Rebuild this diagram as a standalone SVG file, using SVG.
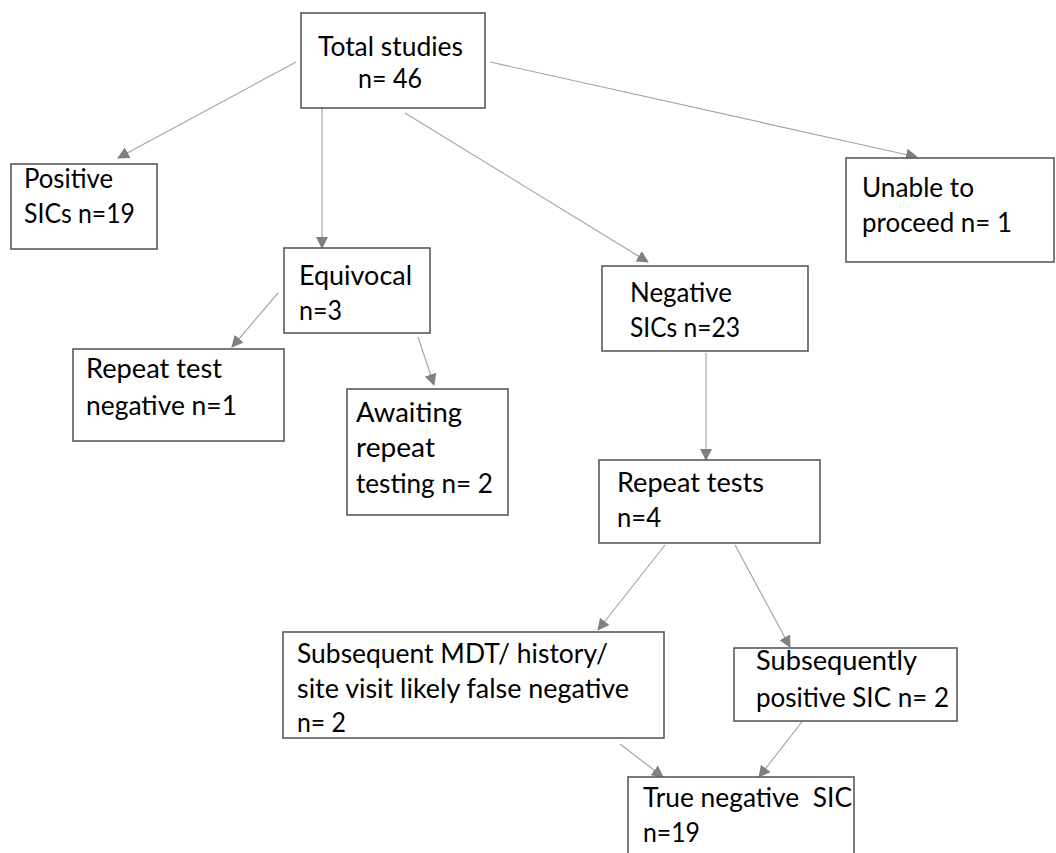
<svg xmlns="http://www.w3.org/2000/svg" width="1056" height="853" viewBox="0 0 1056 853">
<defs>
<style>
.box{fill:#fff;stroke:#5a5a5a;stroke-width:1.6}
.t{font-family:Lato,"Open Sans","Liberation Sans",sans-serif;font-size:26px;fill:#000}
.c{fill:none;stroke:#a6a6a6;stroke-width:1.2}
</style>
<marker id="ah" markerWidth="12" markerHeight="12" refX="11" refY="6" orient="auto" markerUnits="userSpaceOnUse">
<path d="M0,0 L12,6 L0,12 z" fill="#808080"/>
</marker>
</defs>
<rect width="1056" height="853" fill="#fff"/>
<g id="connectors">
<line class="c" x1="296" y1="62" x2="118" y2="158" marker-end="url(#ah)"/>
<line class="c" x1="322" y1="108" x2="322" y2="248" marker-end="url(#ah)"/>
<line class="c" x1="405" y1="113" x2="648" y2="262" marker-end="url(#ah)"/>
<line class="c" x1="490" y1="62" x2="917" y2="157" marker-end="url(#ah)"/>
<line class="c" x1="278" y1="293" x2="232" y2="347" marker-end="url(#ah)"/>
<line class="c" x1="418" y1="337" x2="434" y2="385" marker-end="url(#ah)"/>
<line class="c" x1="706" y1="353" x2="706" y2="460" marker-end="url(#ah)"/>
<line class="c" x1="665" y1="545" x2="598" y2="630" marker-end="url(#ah)"/>
<line class="c" x1="735" y1="545" x2="790" y2="647" marker-end="url(#ah)"/>
<line class="c" x1="620" y1="744" x2="663" y2="777" marker-end="url(#ah)"/>
<line class="c" x1="808" y1="714" x2="759" y2="777" marker-end="url(#ah)"/>
</g>
<g id="total">
<rect class="box" x="301" y="13" width="184" height="95"/>
<text class="t" x="318" y="56" textLength="145" lengthAdjust="spacingAndGlyphs">Total studies</text>
<text class="t" x="358" y="88" textLength="64" lengthAdjust="spacingAndGlyphs">n= 46</text>
</g>
<g id="positive">
<rect class="box" x="11" y="164" width="146" height="85"/>
<text class="t" x="24" y="188" textLength="89" lengthAdjust="spacingAndGlyphs">Positive</text>
<text class="t" x="24" y="223" textLength="111" lengthAdjust="spacingAndGlyphs">SICs n=19</text>
</g>
<g id="unable">
<rect class="box" x="846" y="158" width="208" height="104"/>
<text class="t" x="862" y="197" textLength="112" lengthAdjust="spacingAndGlyphs">Unable to</text>
<text class="t" x="862" y="232" textLength="150" lengthAdjust="spacingAndGlyphs">proceed n= 1</text>
</g>
<g id="equivocal">
<rect class="box" x="284" y="248" width="146" height="85"/>
<text class="t" x="299" y="285" textLength="113" lengthAdjust="spacingAndGlyphs">Equivocal</text>
<text class="t" x="299" y="320" textLength="43" lengthAdjust="spacingAndGlyphs">n=3</text>
</g>
<g id="negative">
<rect class="box" x="602" y="266" width="206" height="85"/>
<text class="t" x="630" y="302" textLength="102" lengthAdjust="spacingAndGlyphs">Negative</text>
<text class="t" x="630" y="337" textLength="110" lengthAdjust="spacingAndGlyphs">SICs n=23</text>
</g>
<g id="repeat-test-negative">
<rect class="box" x="73" y="349" width="211" height="92"/>
<text class="t" x="86" y="378" textLength="136" lengthAdjust="spacingAndGlyphs">Repeat test</text>
<text class="t" x="86" y="415" textLength="151" lengthAdjust="spacingAndGlyphs">negative n=1</text>
</g>
<g id="awaiting">
<rect class="box" x="347" y="389" width="161" height="126"/>
<text class="t" x="356" y="422" textLength="106" lengthAdjust="spacingAndGlyphs">Awaiting</text>
<text class="t" x="356" y="457" textLength="79" lengthAdjust="spacingAndGlyphs">repeat</text>
<text class="t" x="356" y="493" textLength="137" lengthAdjust="spacingAndGlyphs">testing n= 2</text>
</g>
<g id="repeat-tests">
<rect class="box" x="599" y="460" width="221" height="83"/>
<text class="t" x="617" y="492" textLength="147" lengthAdjust="spacingAndGlyphs">Repeat tests</text>
<text class="t" x="617" y="527" textLength="44" lengthAdjust="spacingAndGlyphs">n=4</text>
</g>
<g id="mdt">
<rect class="box" x="283" y="632" width="381" height="106"/>
<text class="t" x="297" y="663" textLength="311" lengthAdjust="spacingAndGlyphs">Subsequent MDT/ history/</text>
<text class="t" x="297" y="698" textLength="332" lengthAdjust="spacingAndGlyphs">site visit likely false negative</text>
<text class="t" x="297" y="732" textLength="49" lengthAdjust="spacingAndGlyphs">n= 2</text>
</g>
<g id="subsequently-positive">
<rect class="box" x="734" y="648" width="223" height="73"/>
<text class="t" x="756" y="670" textLength="161" lengthAdjust="spacingAndGlyphs">Subsequently</text>
<text class="t" x="756" y="707" textLength="193" lengthAdjust="spacingAndGlyphs">positive SIC n= 2</text>
</g>
<g id="true-negative">
<rect class="box" x="628" y="777" width="226" height="90"/>
<text class="t" x="643" y="807" textLength="209" lengthAdjust="spacingAndGlyphs" xml:space="preserve">True negative  SIC</text>
<text class="t" x="643" y="842" textLength="57" lengthAdjust="spacingAndGlyphs">n=19</text>
</g>
</svg>
